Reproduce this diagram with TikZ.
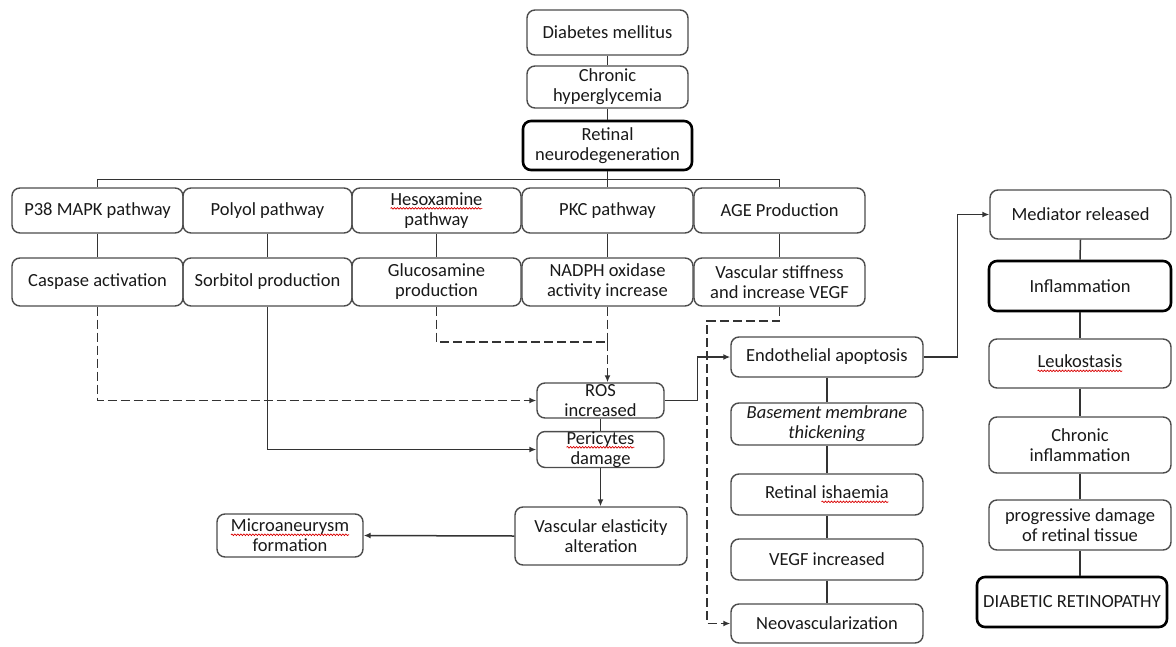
\documentclass[tikz,border=0pt]{standalone}
\usepackage{fontspec}
\setmainfont{Carlito}
\usetikzlibrary{arrows.meta,positioning,calc,decorations.pathmorphing}
\newcommand{\boxfont}{\fontsize{18.5}{20}\selectfont}
% red wavy underline, as the spell checker left it
\newcommand{\squig}[1]{\tikz[baseline=(w.base), x=1pt, y=1pt]{%
  \node[inner sep=0pt, outer sep=0pt, minimum width=0pt, minimum height=0pt,
    draw=none, rounded corners=0pt, text=black!90] (w) {#1};
  \draw[red!85!black, line width=0.7pt, rounded corners=0pt, decorate,
    decoration={snake, amplitude=0.8pt, segment length=3pt}]
    ([yshift=-3pt]w.base west) -- ([yshift=-3pt]w.base east);}}
\tikzset{
  box/.style={draw=black!70, line width=1.4pt, rounded corners=8pt, align=center,
    inner sep=0pt, text=black!90},
  bigbox/.style={box, draw=black, line width=2.6pt},
  sz/.style 2 args={minimum width=#1pt, minimum height=#2pt},
  link/.style={draw=black!80, line width=1.5pt},
  arr/.style={link, -{Latex[length=7pt,width=6pt]}},
  dlink/.style={link, dash pattern=on 9pt off 4pt},
  darr/.style={arr, dash pattern=on 9pt off 4pt},
}

\begin{document}
\begin{tikzpicture}[x=1pt, y=-1pt, font=\boxfont]
  \useasboundingbox (0,0) rectangle (1176,646);
  % rows of the pathway boxes
  \def\rowa{210.5} \def\rowb{282}
  % top chain
  \node[box, sz={161}{45}] (dm) at (607.5,32.5) {Diabetes mellitus};
  \node[box, sz={161}{42}] (hyper) at (607.5,87) {Chronic\\hyperglycemia};
  \node[bigbox, sz={169}{49}] (retneuro) at (607.5,145.5) {Retinal\\neurodegeneration};
  % pathways
  \node[box, sz={171}{45}] (p38) at (97.5,\rowa) {P38 MAPK pathway};
  \node[box, sz={169}{45}] (polyol) at (267.5,\rowa) {Polyol pathway};
  \node[box, sz={169}{45}] (hexo) at (436.5,\rowa) {\squig{Hesoxamine}\\pathway};
  \node[box, sz={171}{45}] (pkc) at (607.5,\rowa) {PKC pathway};
  \node[box, sz={171}{45}] (age) at (779.5,\rowa) {AGE Production};
  % products
  \node[box, sz={171}{48}] (caspase) at (97.5,\rowb) {Caspase activation};
  \node[box, sz={169}{48}] (sorbitol) at (267.5,\rowb) {Sorbitol production};
  \node[box, sz={169}{48}] (glucos) at (436.5,\rowb) {Glucosamine\\production};
  \node[box, sz={171}{48}] (nadph) at (607.5,\rowb) {NADPH oxidase\\activity increase};
  \node[box, sz={171}{48}] (vstiff) at (779.5,\rowb) {Vascular stiffness\\and increase VEGF};
  % damage
  \node[box, sz={127}{35}] (ros) at (600.5,400.5) {ROS\\increased};
  \node[box, sz={127}{35}] (peri) at (600.5,449.5) {\squig{Pericytes}\\damage};
  \node[box, sz={172}{58}] (vascel) at (601,536) {Vascular elasticity\\alteration};
  \node[box, sz={146}{43}] (microan) at (290,535.5) {\squig{Microaneurysm}\\formation};
  % endothelial chain
  \node[box, sz={192}{40}] (endo) at (827,357) {Endothelial apoptosis};
  \node[box, sz={192}{42}, font=\boxfont\itshape] (basement) at (827,424) {Basement membrane\\thickening};
  \node[box, sz={192}{41}] (ischaemia) at (827,494.5) {Retinal \squig{ishaemia}};
  \node[box, sz={192}{41}] (vegf) at (827,559.5) {VEGF increased};
  \node[box, sz={192}{39}] (neovasc) at (827,623.5) {Neovascularization};
  % inflammation chain
  \node[box, sz={181}{49}] (mediator) at (1080.5,214.5) {Mediator released};
  \node[bigbox, sz={182}{50}] (inflam) at (1080,286) {Inflammation};
  \node[box, sz={182}{49}] (leuko) at (1080,363.5) {\squig{Leukostasis}};
  \node[box, sz={182}{56}] (chronicinf) at (1080,445) {Chronic\\inflammation};
  \node[box, sz={182}{50}] (progdmg) at (1080,525) {progressive damage\\of retinal tissue};
  \node[bigbox, sz={190}{50}] (dr) at (1072,602) {DIABETIC RETINOPATHY};
  % plain links
  \foreach \a/\b in {dm/hyper, hyper/retneuro, retneuro/pkc, p38/caspase, polyol/sorbitol,
      hexo/glucos, pkc/nadph, age/vstiff, ros/peri, endo/basement, basement/ischaemia,
      ischaemia/vegf, vegf/neovasc, mediator/inflam, inflam/leuko, leuko/chronicinf,
      chronicinf/progdmg}
    \draw[link] (\a.south) -- (\b.north);
  \draw[link] (progdmg.south) -- (progdmg.south |- dr.north);
  % bus under retinal neurodegeneration
  \draw[link] (retneuro.south) -- ++(0,8) -| (p38.north);
  \draw[link] (retneuro.south) -- ++(0,8) -| (age.north);
  % into ROS and pericytes
  \draw[darr] (caspase.south) |- (ros.west);
  \draw[arr] (sorbitol.south) |- (peri.west);
  \coordinate (gj) at (607.5,342);
  \draw[dlink] (glucos.south) |- (gj);
  \draw[dlink] (nadph.south) -- (gj);
  \draw[darr] (gj) -- (gj |- ros.north);
  \draw[arr] (peri.south) -- (peri.south |- vascel.north);
  \draw[arr] (vascel.west) -- (microan.east);
  % to the endothelial and inflammation chains
  \draw[arr] (ros.east) -- ++(33,0) |- (endo.west);
  \coordinate (vk) at (707,321);
  \draw[darr] (vstiff.south) |- (vk) |- (neovasc.west);
  \draw[arr] (endo.east) -- ++(34,0) |- (mediator.west);
\end{tikzpicture}
\end{document}
